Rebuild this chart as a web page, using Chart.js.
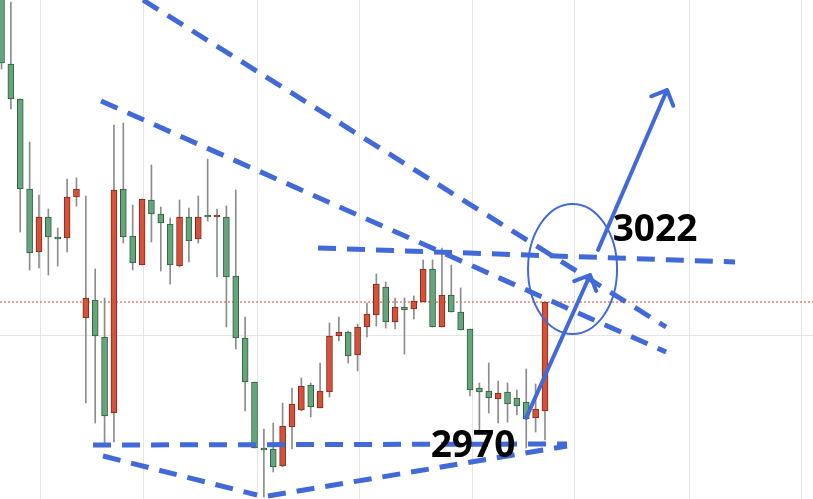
<!DOCTYPE html>
<html>
<head>
<meta charset="utf-8">
<script src="https://cdn.jsdelivr.net/npm/chart.js@4.4.1/dist/chart.umd.min.js"></script>
<style>
  html, body { margin: 0; padding: 0; background: #ffffff; }
  #wrap { width: 813px; height: 499px; }
</style>
</head>
<body>
<div id="wrap"><canvas id="chart" width="813" height="499"></canvas></div>
<script>
// Candles (index 0..58), red = up, green = down
const opens = [3083.5, 3065, 3056.25, 3033.75, 3018, 3026.75, 3021.75, 3021.5, 3031.75, 3001.5,
    3006, 2996.75, 2977.75, 3033.75, 3022, 3014.75, 3031, 3027.5, 3025, 3014.5,
    3026.75, 3021.25, 3027.25, 3026.75, 3026.75, 3012, 2996.5, 2985.5, 2969, 2968.75,
    2964.5, 2974.25, 2978.5, 2984.75, 2979, 2983, 2997, 2998, 2992.25, 2999.25,
    3002.25, 3009.25, 3000.5, 3004.25, 3003.75, 3005.5, 3013.75, 2999.25, 3007.25, 3003,
    2998.75, 2984, 2983.25, 2981.25, 2983, 2981.5, 2980.5, 2976.5, 2978.25];
const highs = [3086, 3080.5, 3056.25, 3045.5, 3032.25, 3028.75, 3024, 3036.25, 3036.5, 3032,
    3013.75, 3006.5, 3049.75, 3050.25, 3029.75, 3031.25, 3039.75, 3029.25, 3026.5, 3031,
    3029, 3032, 3041.25, 3028.75, 3029.5, 3033.5, 3001.75, 2985.5, 2973.75, 2975.25,
    2980.25, 2984, 2986.5, 2985.25, 2990.25, 3000.25, 3001.75, 2998.25, 3000, 3005.25,
    3012.5, 3010.5, 3006.5, 3006.5, 3007, 3016, 3016, 3019, 3014.75, 3009,
    2998.75, 2985.25, 2990.25, 2985.75, 2985.25, 2983.5, 2988.75, 2985, 3005.5];
const lows = [3063.75, 3053.75, 3023, 3013.5, 3014, 3012.25, 3014.5, 3018, 3029.5, 2980.25,
    2975.25, 2969.75, 2970.5, 3020.25, 3013.5, 3014.75, 3020.5, 3013.25, 3010, 3014.25,
    3015.5, 3020.25, 3025.75, 3011.75, 2999.25, 2993.75, 2978.25, 2969, 2956.75, 2963,
    2964.25, 2968.75, 2978.25, 2976.75, 2979, 2981.75, 2995.75, 2990.25, 2988.25, 2996.75,
    2999.5, 2999, 2998.75, 2992.5, 3001.25, 3005.5, 2999.25, 2999.25, 3003, 2998.5,
    2982, 2973, 2977.75, 2975.25, 2975.5, 2977.25, 2969, 2973, 2971];
const closes = [3065.25, 3056.25, 3033.75, 3017.75, 3026.75, 3021.75, 3021.25, 3031.75, 3033.75, 3006.5,
    2997, 2977, 3033.5, 3021.75, 3015.25, 3031.25, 3027.5, 3025.25, 3014.75, 3026.75,
    3020.75, 3026.75, 3026.75, 3027.25, 3011.75, 2996.5, 2985.5, 2969, 2968.5, 2964.25,
    2974.5, 2980, 2984.5, 2979.25, 2983.25, 2997, 2998, 2992, 2999.25, 3002.5,
    3010, 3000.5, 3004.25, 3003.5, 3005.75, 3013.75, 2999.25, 3007.25, 3003, 2998.5,
    2983.5, 2983, 2981.5, 2982.75, 2980, 2979.5, 2976.25, 2978.75, 3005.5];

// Axis range and grid positions (candle index / price)
const xRange = [-0.16, 86.6];
const yRange = [2956.25, 3081];
const gridX = [4.2, 15.2, 27.3, 38.2, 50.3, 61.2, 73.4, 85.4];
const gridY = [2997.25];
const currentPrice = 3005.5;

// Hand-drawn annotations (candle index, price)
const lineDown1 = [{ x: 15.1, y: 3081 }, { x: 70.92, y: 2999.25 }];
const lineDown2 = [{ x: 10.62, y: 3055.75 }, { x: 70.92, y: 2993 }];
const lineFlat = [{ x: 33.78, y: 3019 }, { x: 78.28, y: 3015.5 }];
const lineSupport = [{ x: 9.77, y: 2969.75 }, { x: 60.35, y: 2970 }];
const lineLowLeft = [{ x: 10.83, y: 2967 }, { x: 27.27, y: 2957.25 }];
const lineLowRight = [{ x: 28.44, y: 2957 }, { x: 60.35, y: 2969.5 }];
const arrowShort = [{ x: 55.98, y: 2976.5 }, { x: 62.81, y: 3012.25 }];
const arrowLong = [{ x: 63.66, y: 3018.5 }, { x: 71.02, y: 3058.5 }];
const zoneCenter = { x: 60.94, y: 3013.75 };
const zoneRadius = { x: 4.75, y: 16.25 };
const labelTexts = ['3022', '2970'];
const labelPoints = [{ x: 69.74, y: 3023.4 }, { x: 50.32, y: 2969.5 }];

const UP_FILL = '#d6513a', UP_EDGE = '#7c2a1a';
const DN_FILL = '#66a57c', DN_EDGE = '#2f5f40';
const BLUE = '#4169d8';

const isUp = opens.map((o, i) => closes[i] > o);
const bodies = opens.map((o, i) => ({ x: i, y: [Math.min(o, closes[i]), Math.max(o, closes[i])] }));
const wicks = lows.map((l, i) => ({ x: i, y: [l, highs[i]] }));

function dashed(data) {
    return {
        type: 'line',
        data: data,
        borderColor: BLUE,
        borderWidth: 5,
        borderDash: [18, 11],
        pointRadius: 0,
        fill: false,
        order: 0
    };
}

const annotationPlugin = {
    id: 'annotations',
    afterDatasetsDraw(chart) {
        const ctx = chart.ctx;
        const xs = chart.scales.x, ys = chart.scales.y;
        const px = p => [xs.getPixelForValue(p.x), ys.getPixelForValue(p.y)];

        ctx.save();
        ctx.strokeStyle = BLUE;

        // ellipse zone
        const c = px(zoneCenter);
        const rx = Math.abs(xs.getPixelForValue(zoneCenter.x + zoneRadius.x) - c[0]);
        const ry = Math.abs(ys.getPixelForValue(zoneCenter.y + zoneRadius.y) - c[1]);
        ctx.lineWidth = 2;
        ctx.beginPath();
        ctx.ellipse(c[0], c[1], rx, ry, 0, 0, Math.PI * 2);
        ctx.stroke();

        // arrows
        ctx.lineWidth = 4;
        ctx.lineCap = 'round';
        ctx.lineJoin = 'round';
        [arrowShort, arrowLong].forEach(a => {
            const s = px(a[0]), e = px(a[1]);
            const ang = Math.atan2(e[1] - s[1], e[0] - s[0]);
            const head = 17;
            ctx.beginPath();
            ctx.moveTo(s[0], s[1]);
            ctx.lineTo(e[0], e[1]);
            ctx.moveTo(e[0] - head * Math.cos(ang - Math.PI / 4), e[1] - head * Math.sin(ang - Math.PI / 4));
            ctx.lineTo(e[0], e[1]);
            ctx.lineTo(e[0] - head * Math.cos(ang + Math.PI / 4), e[1] - head * Math.sin(ang + Math.PI / 4));
            ctx.stroke();
        });

        // price labels
        ctx.fillStyle = '#000000';
        ctx.font = 'bold 37px "Noto Sans", "Open Sans", sans-serif';
        ctx.textAlign = 'center';
        ctx.textBaseline = 'middle';
        labelTexts.forEach((t, i) => {
            const p = px(labelPoints[i]);
            ctx.fillText(t, p[0], p[1]);
        });
        ctx.restore();
    }
};

new Chart(document.getElementById('chart').getContext('2d'), {
    type: 'bar',
    data: {
        datasets: [
            {
                label: 'wick',
                data: wicks,
                backgroundColor: '#8c8c8c',
                barThickness: 1,
                grouped: false,
                order: 2
            },
            {
                label: 'body',
                data: bodies,
                backgroundColor: isUp.map(u => u ? UP_FILL : DN_FILL),
                borderColor: isUp.map(u => u ? UP_EDGE : DN_EDGE),
                borderWidth: 1,
                borderSkipped: false,
                barThickness: 6,
                grouped: false,
                order: 1
            },
            {
                type: 'line',
                label: 'current',
                data: [{ x: xRange[0], y: currentPrice }, { x: xRange[1], y: currentPrice }],
                borderColor: '#e0442c',
                borderWidth: 1,
                borderDash: [2, 2],
                pointRadius: 0,
                order: 3
            },
            dashed(lineDown1),
            dashed(lineDown2),
            dashed(lineFlat),
            dashed(lineSupport),
            dashed(lineLowLeft),
            dashed(lineLowRight)
        ]
    },
    options: {
        responsive: false,
        animation: false,
        layout: { padding: 0 },
        plugins: {
            legend: { display: false },
            tooltip: { enabled: false }
        },
        scales: {
            x: {
                type: 'linear',
                min: xRange[0],
                max: xRange[1],
                offset: false,
                afterBuildTicks: s => { s.ticks = gridX.map(v => ({ value: v })); },
                ticks: { display: false },
                grid: { color: '#e6e6e6', drawTicks: false, offset: false },
                border: { display: false }
            },
            y: {
                type: 'linear',
                min: yRange[0],
                max: yRange[1],
                afterBuildTicks: s => { s.ticks = gridY.map(v => ({ value: v })); },
                ticks: { display: false },
                grid: { color: '#e6e6e6', drawTicks: false },
                border: { display: false }
            }
        }
    },
    plugins: [annotationPlugin]
});
</script>
</body>
</html>
